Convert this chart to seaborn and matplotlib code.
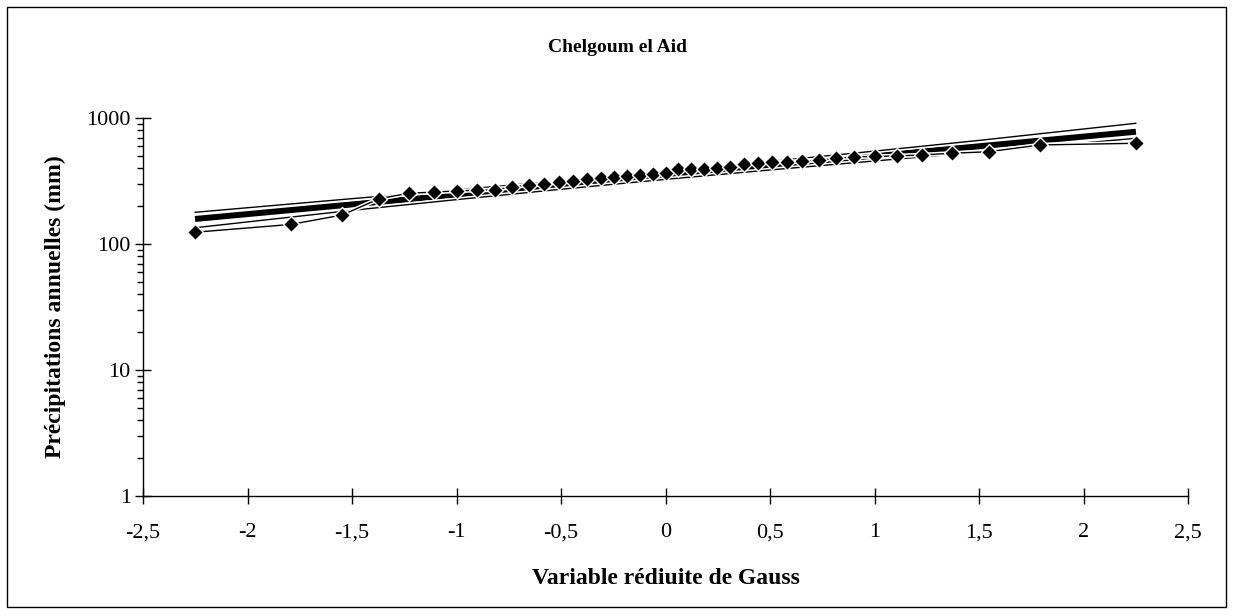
import matplotlib
matplotlib.use("Agg")
import matplotlib.pyplot as plt
import matplotlib.patheffects as pe
from matplotlib.patches import Rectangle
from matplotlib.ticker import FixedLocator, FixedFormatter, LogLocator, NullFormatter
import pandas as pd
import seaborn as sns

# Gauss reduced variate of each ranked year (Hazen plotting positions, n = 41)
z_gauss = [-2.251, -1.792, -1.546, -1.370, -1.227, -1.107, -1.000, -0.904,
           -0.816, -0.733, -0.655, -0.582, -0.511, -0.442, -0.375, -0.310,
           -0.246, -0.184, -0.122, -0.061, 0.000, 0.061, 0.122, 0.184,
           0.246, 0.310, 0.375, 0.442, 0.511, 0.582, 0.655, 0.733,
           0.816, 0.904, 1.000, 1.107, 1.227, 1.370, 1.546, 1.792, 2.251]

# Ranked annual rainfall totals (mm)
precip_mm = [124, 143, 170, 229, 253, 258, 264, 267, 269, 284, 293, 298,
             311, 318, 327, 332, 341, 347, 352, 358, 367, 393, 395, 397,
             399, 410, 430, 443, 446, 450, 452, 464, 478, 492, 495, 500,
             509, 525, 540, 611, 630]

# Fitted log-normal law (straight line on the log axis)
fit_z = [-2.251, 2.251]
fit_mm = [158, 778]

# Confidence limits around the fitted law
band_z = [-2.251, -1.5, -1.0, -0.5, 0.0, 0.5, 1.0, 1.5, 2.251]
band_upper = [178.5, 229, 269, 317, 377, 452, 546, 664, 908]
band_lower = [134.6, 185, 225, 272, 326, 387, 456, 536, 690]

x_ticks = [-2.5, -2.0, -1.5, -1.0, -0.5, 0.0, 0.5, 1.0, 1.5, 2.0, 2.5]
x_tick_labels = ["-2,5", "-2", "-1,5", "-1", "-0,5", "0", "0,5", "1", "1,5", "2", "2,5"]
y_ticks = [1, 10, 100, 1000]
y_tick_labels = ["1", "10", "100", "1000"]

title = "Chelgoum el Aid"
x_label = "Variable rédiuite de Gauss"
y_label = "Précipitations annuelles (mm)"

sns.set_theme(style="white")
plt.rcParams["font.family"] = ["Liberation Serif", "DejaVu Serif"]

W, H = 1234, 616
fig = plt.figure(figsize=(W / 100, H / 100), dpi=100)
fig.patch.set_facecolor("white")

ax_left, ax_right, ax_top, ax_bottom = 143, 1188, 118, 496
ax = fig.add_axes([ax_left / W, 1 - ax_bottom / H,
                   (ax_right - ax_left) / W, (ax_bottom - ax_top) / H])
ax.set_facecolor("white")

halo = [pe.Stroke(linewidth=3.2, foreground="white"), pe.Normal()]

obs = pd.DataFrame({"z": z_gauss, "P": precip_mm})
fit = pd.DataFrame({"z": fit_z, "P": fit_mm})
up = pd.DataFrame({"z": band_z, "P": band_upper})
lo = pd.DataFrame({"z": band_z, "P": band_lower})

sns.lineplot(data=fit, x="z", y="P", ax=ax, color="black", linewidth=4.3,
             solid_capstyle="butt", zorder=2)
sns.lineplot(data=up, x="z", y="P", ax=ax, color="black", linewidth=1.0,
             path_effects=halo, zorder=3)
sns.lineplot(data=lo, x="z", y="P", ax=ax, color="black", linewidth=1.0,
             path_effects=halo, zorder=3)
sns.lineplot(data=obs, x="z", y="P", ax=ax, color="black", linewidth=1.0,
             path_effects=halo, zorder=4)
sns.scatterplot(data=obs, x="z", y="P", ax=ax, marker="D", s=66,
                color="black", edgecolor="white", linewidth=1.0, zorder=5)

ax.set_yscale("log")
ax.set_xlim(-2.5, 2.5)
ax.set_ylim(1, 1000)

ax.xaxis.set_major_locator(FixedLocator(x_ticks))
ax.xaxis.set_major_formatter(FixedFormatter(x_tick_labels))
ax.yaxis.set_major_locator(FixedLocator(y_ticks))
ax.yaxis.set_major_formatter(FixedFormatter(y_tick_labels))
ax.yaxis.set_minor_locator(LogLocator(base=10, subs=range(2, 10)))
ax.yaxis.set_minor_formatter(NullFormatter())

for side in ("top", "right"):
    ax.spines[side].set_visible(False)
for side in ("left", "bottom"):
    ax.spines[side].set_color("black")
    ax.spines[side].set_linewidth(1.0)

ax.tick_params(axis="x", which="both", bottom=True, top=False)
ax.tick_params(axis="y", which="both", left=True, right=False)
ax.tick_params(axis="both", which="major", direction="inout", length=11.5,
               width=1.0, color="black", labelsize=16, labelcolor="black")
ax.tick_params(axis="x", which="major", pad=14)
ax.tick_params(axis="y", which="major", pad=3)
ax.tick_params(axis="x", which="minor", bottom=False)
ax.tick_params(axis="y", which="minor", direction="out", length=4,
               width=1.0, color="black")
ax.grid(False)

ax.set_xlabel(x_label, fontsize=17, fontweight="bold", color="black")
ax.set_ylabel(y_label, fontsize=17, fontweight="bold", color="black")
ax.xaxis.set_label_coords(0.5, (ax_bottom - 578) / (ax_bottom - ax_top))
ax.xaxis.label.set_va("center")
ax.yaxis.set_label_coords((55 - ax_left) / (ax_right - ax_left), 0.5)
ax.yaxis.label.set_va("center")

fig.text(617 / W, 1 - 47 / H, title, ha="center", va="center",
         fontsize=14, fontweight="bold", color="black")

fig.patches.append(Rectangle((7 / W, 1 - 607 / H), (1226 - 7) / W, (607 - 7) / H,
                             transform=fig.transFigure, fill=False,
                             edgecolor="black", linewidth=1.0))

fig.savefig("out.png", dpi=100, facecolor="white")
